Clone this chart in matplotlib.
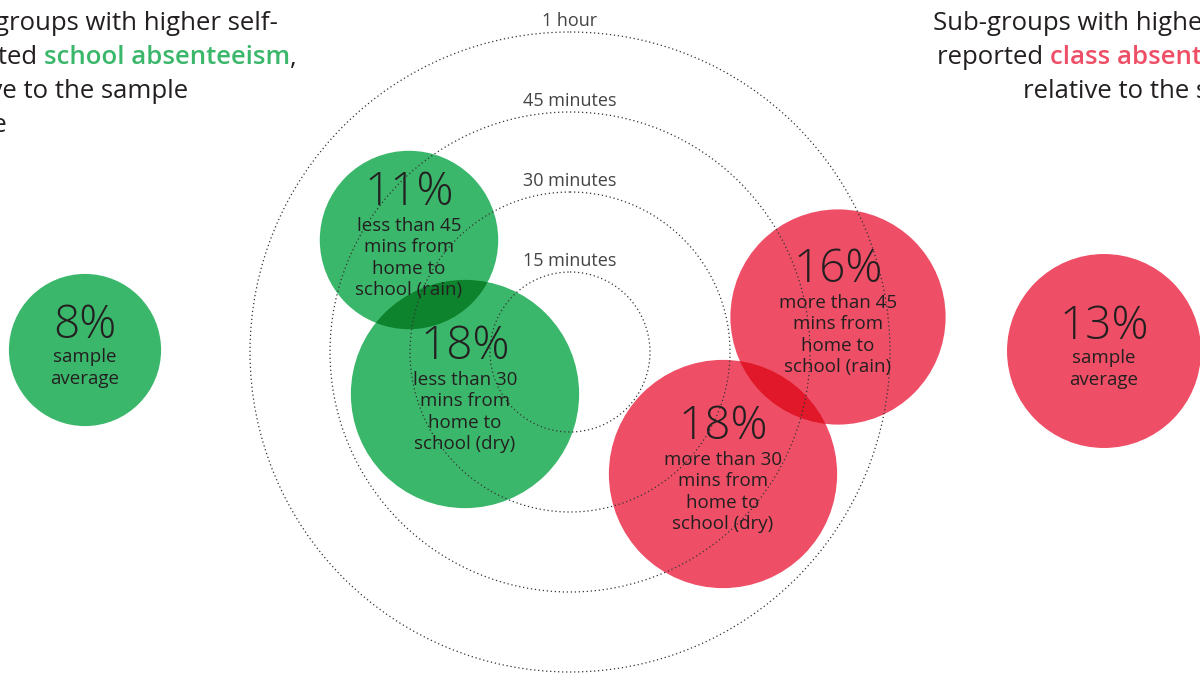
import numpy as np
import matplotlib.pyplot as plt
import matplotlib.colors as mc
from matplotlib.patches import Circle

# Datos: porcentaje de ausentismo por sub-grupo
grupos = ['school', 'school', 'school', 'class', 'class', 'class']
valores = [8, 11, 18, 16, 18, 13]
etiquetas = ['sample\naverage',
             'less than 45\nmins from\nhome to\nschool (rain)',
             'less than 30\nmins from\nhome to\nschool (dry)',
             'more than 45\nmins from\nhome to\nschool (rain)',
             'more than 30\nmins from\nhome to\nschool (dry)',
             'sample\naverage']

# Anillos de tiempo de viaje
minutos = [15, 30, 45, 60]
etiquetas_anillos = ['15 minutes', '30 minutes', '45 minutes', '1 hour']

# Posiciones de los círculos (en píxeles)
centros_x = [85, 409, 465, 838, 723, 1104]
centros_y = [350, 240, 394, 317, 474, 351]

VERDE = '#3bb76b'
ROJO = '#ef4f66'
TEXTO = '#231f20'
colores = {'school': VERDE, 'class': ROJO}

plt.rcParams['font.family'] = ['Open Sans', 'DejaVu Sans']

W, H = 1200, 673
fig = plt.figure(figsize=(12, 6.73), dpi=100)
ax = fig.add_axes([0, 0, 1, 1])
ax.set_xlim(0, W)
ax.set_ylim(H, 0)
ax.axis('off')


def multiplicar(c1, c2):
    a = np.array(mc.to_rgb(c1))
    b = np.array(mc.to_rgb(c2))
    return tuple(a * b)


# Círculos (radio proporcional a la raíz del porcentaje)
k = 26.9
radios = [k * np.sqrt(v) for v in valores]
parches = []
for g, cx, cy, r in zip(grupos, centros_x, centros_y, radios):
    p = Circle((cx, cy), r, facecolor=colores[g], edgecolor='none', zorder=1)
    ax.add_patch(p)
    parches.append(p)

# Zonas de superposición (efecto multiplicar)
n = len(valores)
for i in range(n):
    for j in range(i + 1, n):
        d = np.hypot(centros_x[i] - centros_x[j], centros_y[i] - centros_y[j])
        if d < radios[i] + radios[j]:
            col = multiplicar(colores[grupos[i]], colores[grupos[j]])
            q = Circle((centros_x[j], centros_y[j]), radios[j], facecolor=col,
                       edgecolor='none', zorder=2)
            ax.add_patch(q)
            q.set_clip_path(parches[i])

# Anillos punteados
cx0, cy0 = 570, 352
escala = 80 / 15
for m, lab in zip(minutos, etiquetas_anillos):
    r = m * escala
    ax.add_patch(Circle((cx0, cy0), r, fill=False, edgecolor='#333333',
                        linewidth=0.9, linestyle=(0, (1, 2.2)), zorder=3))
    ax.text(cx0, cy0 - r - 11, lab, ha='center', va='center', fontsize=13,
            color='#444444', zorder=4)

# Textos dentro de los círculos
for v, lab, cx, cy in zip(valores, etiquetas, centros_x, centros_y):
    nl = lab.count('\n') + 1
    ax.text(cx, cy - (11.5 * nl + 1), f'{v}%', ha='center', va='center',
            fontsize=33, fontweight='light', color=TEXTO, zorder=5)
    ax.text(cx, cy + 18, lab, ha='center', va='center', fontsize=13.5,
            linespacing=1.22, color=TEXTO, zorder=5)

# Títulos con partes de color
fig.canvas.draw()
renderer = fig.canvas.get_renderer()
TAM = 18.5


def ancho(s, **kw):
    t = ax.text(0, 0, s, **kw)
    w = t.get_window_extent(renderer).width
    t.remove()
    return w


def texto_rico(x, y, partes, ha='left'):
    kws = [dict(fontsize=TAM, color=c, fontweight=fw) for _, c, fw in partes]
    anchos = [ancho(s, **kw) for (s, _, _), kw in zip(partes, kws)]
    total = sum(anchos)
    if ha == 'right':
        x = x - total
    for (s, _, _), kw, w in zip(partes, kws, anchos):
        ax.text(x, y, s, ha='left', va='center', zorder=6, **kw)
        x += w


texto_rico(278, 23, [('Sub-groups with higher self-', TEXTO, 'normal')], ha='right')
texto_rico(297, 58, [('reported ', TEXTO, 'normal'),
                     ('school absenteeism', VERDE, 'semibold'),
                     (',', TEXTO, 'normal')], ha='right')
texto_rico(188, 91, [('relative to the sample', TEXTO, 'normal')], ha='right')
texto_rico(8, 125, [('average', TEXTO, 'normal')], ha='right')

texto_rico(933, 23, [('Sub-groups with higher self-', TEXTO, 'normal')])
texto_rico(937, 58, [('reported ', TEXTO, 'normal'),
                     ('class absenteeism', ROJO, 'semibold'),
                     (',', TEXTO, 'normal')])
texto_rico(1023, 91, [('relative to the sample average', TEXTO, 'normal')])

fig.savefig('out.png', dpi=100)
